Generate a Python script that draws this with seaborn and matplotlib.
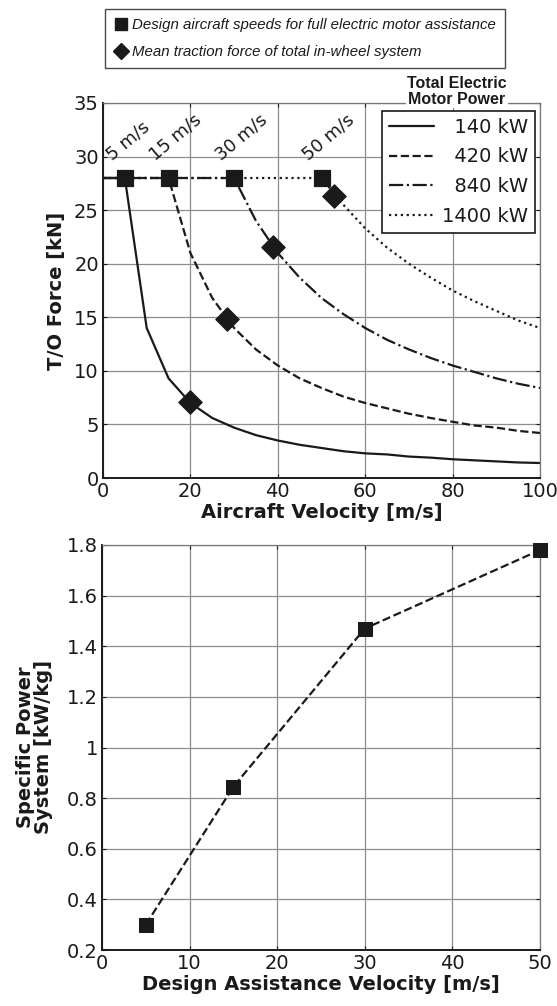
import numpy as np
import pandas as pd
import matplotlib.pyplot as plt
import seaborn as sns
from matplotlib import font_manager
from matplotlib.lines import Line2D

sns.set_theme(style="whitegrid")

names = {f.name for f in font_manager.fontManager.ttflist}
narrow_font = "Liberation Sans Narrow" if "Liberation Sans Narrow" in names else "Liberation Sans"
plt.rcParams['font.family'] = ['DejaVu Sans']

# top chart: T/O force vs aircraft velocity
velocity = [0, 5, 10, 15, 20, 25, 30, 35, 40, 45, 50, 55, 60, 65, 70, 75, 80, 85, 90, 95, 100]
force_140 = [28, 28, 14, 9.3, 7.0, 5.6, 4.7, 4.0, 3.5, 3.1, 2.8, 2.5, 2.3, 2.2, 2.0, 1.9, 1.75, 1.65, 1.55, 1.45, 1.4]
force_420 = [28, 28, 28, 28, 21, 16.8, 14, 12, 10.5, 9.3, 8.4, 7.6, 7.0, 6.5, 6.0, 5.6, 5.25, 4.9, 4.7, 4.4, 4.2]
force_840 = [28, 28, 28, 28, 28, 28, 28, 24, 21, 18.7, 16.8, 15.3, 14, 12.9, 12, 11.2, 10.5, 9.9, 9.3, 8.8, 8.4]
force_1400 = [28, 28, 28, 28, 28, 28, 28, 28, 28, 28, 28, 25.5, 23.3, 21.5, 20, 18.7, 17.5, 16.5, 15.6, 14.7, 14]
power_labels = ["\u2007140 kW", "\u2007420 kW", "\u2007840 kW", "1400 kW"]

design_speed = [5, 15, 30, 50]
design_force = [28, 28, 28, 28]
speed_labels = ["5 m/s", "15 m/s", "30 m/s", "50 m/s"]
mean_speed = [20, 28.3, 39, 52.9]
mean_force = [7.1, 14.8, 21.6, 26.3]

# bottom chart: specific power vs design assistance velocity
assist_velocity = [5, 15, 30, 50]
specific_power = [0.30, 0.845, 1.47, 1.78]

ink = "#1a1a1a"
W, H = 557, 1006
fig = plt.figure(figsize=(W / 100, H / 100), dpi=100)
ax1 = fig.add_axes([103 / W, 1 - 478 / H, 437 / W, 375 / H])
ax2 = fig.add_axes([102 / W, 1 - 950 / H, 438 / W, 405 / H])

styles = ["-", "--", "-.", ":"]
for f, lab, ls in zip([force_140, force_420, force_840, force_1400], power_labels, styles):
    sns.lineplot(x=velocity, y=f, ax=ax1, color=ink, linestyle=ls, lw=1.6, label=lab)

sns.scatterplot(x=design_speed, y=design_force, ax=ax1, marker="s", s=120, color=ink,
                edgecolor=ink, zorder=5, legend=False)
sns.scatterplot(x=mean_speed, y=mean_force, ax=ax1, marker="D", s=140, color=ink,
                edgecolor=ink, zorder=5, legend=False)

for v, lab in zip(design_speed, speed_labels):
    ax1.text(v - 2.4, 29.3, lab, rotation=40, rotation_mode="anchor", ha="left", va="bottom",
             fontsize=13, color=ink)

sns.lineplot(x=assist_velocity, y=specific_power, ax=ax2, color=ink, linestyle="--", lw=1.6,
             marker="s", markersize=10, markeredgecolor=ink)
for ln in ax2.lines:
    ln.set_clip_on(False)
    ln.set_zorder(5)

for ax in (ax1, ax2):
    ax.set_facecolor("white")
    ax.grid(True, color="#8c8c8c", lw=0.9)
    for side, sp in ax.spines.items():
        sp.set_visible(True)
        sp.set_color(ink if side in ("left", "bottom") else "#777777")
        sp.set_linewidth(1.4 if side in ("left", "bottom") else 0.9)
    ax.tick_params(direction="in", length=3, width=0.8, colors=ink, labelsize=14,
                   top=True, right=True, bottom=True, left=True, pad=3)

ax1.set_xlim(0, 100)
ax1.set_ylim(0, 35)
ax1.set_xticks([0, 20, 40, 60, 80, 100])
ax1.set_yticks([0, 5, 10, 15, 20, 25, 30, 35])
ax1.set_xlabel("Aircraft Velocity [m/s]", fontsize=14, fontweight="bold", color=ink, labelpad=1)
ax1.set_ylabel("T/O Force [kN]", fontsize=14, fontweight="bold", color=ink, labelpad=6)

ax2.set_xlim(0, 50)
ax2.set_ylim(0.2, 1.8)
ax2.set_xticks([0, 10, 20, 30, 40, 50])
ax2.set_yticks([0.2, 0.4, 0.6, 0.8, 1, 1.2, 1.4, 1.6, 1.8])
ax2.set_yticklabels(["0.2", "0.4", "0.6", "0.8", "1", "1.2", "1.4", "1.6", "1.8"])
ax2.set_xlabel("Design Assistance Velocity [m/s]", fontsize=14, fontweight="bold", color=ink, labelpad=1)
ax2.set_ylabel("Specific Power\nSystem [kW/kg]", fontsize=14, fontweight="bold", color=ink,
               labelpad=10, linespacing=0.95)

# power legend, title sits above the box
leg = ax1.legend(loc="upper left", bbox_to_anchor=((382 - 103) / 437, 1 - (111 - 103) / 375),
                 frameon=True, fancybox=False, fontsize=14, handlelength=2.3, handletextpad=0.45,
                 borderpad=0.35, labelspacing=0.55, borderaxespad=0)
leg.get_frame().set_edgecolor(ink)
leg.get_frame().set_linewidth(1.2)
leg.get_frame().set_alpha(1)
for t in leg.get_texts():
    t.set_color(ink)
fig.text(457 / W, 1 - 107 / H, "Total Electric\nMotor Power", ha="center", va="bottom",
         fontsize=11.5, fontweight="bold", family=[narrow_font, "DejaVu Sans"], color=ink,
         linespacing=1.05, bbox=dict(facecolor="white", edgecolor="none", pad=1))

# marker legend at the top
marker_handles = [
    Line2D([], [], marker="s", color=ink, linestyle="none", markersize=8),
    Line2D([], [], marker="D", color=ink, linestyle="none", markersize=8),
]
top_leg = fig.legend(marker_handles,
                     ["Design aircraft speeds for full electric motor assistance",
                      "Mean traction force of total in-wheel system"],
                     loc="upper left", bbox_to_anchor=(105 / W, 1 - 9 / H), frameon=True,
                     fancybox=False, handlelength=0.9, handletextpad=0.3, borderpad=0.6,
                     labelspacing=0.85, borderaxespad=0,
                     prop=dict(family=[narrow_font, "DejaVu Sans"], style="italic", size=10.8))
top_leg.get_frame().set_edgecolor(ink)
top_leg.get_frame().set_linewidth(1.0)
for t in top_leg.get_texts():
    t.set_color(ink)

fig.savefig("out.png", dpi=100, facecolor="white")
